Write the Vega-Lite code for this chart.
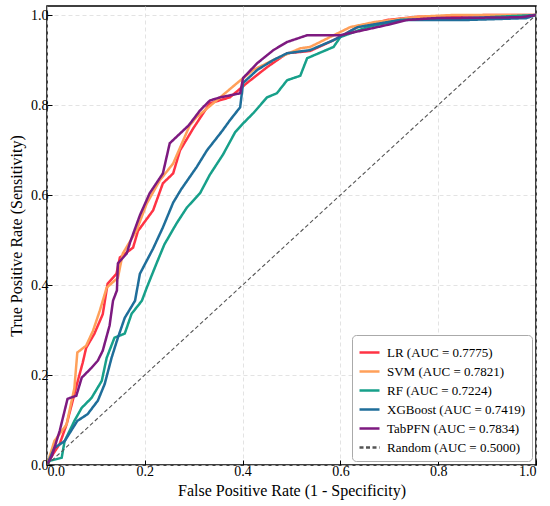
{
  "$schema": "https://vega.github.io/schema/vega-lite/v6.json",
  "width": 489,
  "height": 459,
  "autosize": "none",
  "padding": {"left": 47, "top": 6, "right": 14, "bottom": 41},
  "background": "white",
  "data": {
    "values": [
      {"model": "LR (AUC = 0.7775)", "fpr": 0, "tpr": 0},
      {"model": "LR (AUC = 0.7775)", "fpr": 0.01, "tpr": 0.02},
      {"model": "LR (AUC = 0.7775)", "fpr": 0.026, "tpr": 0.047},
      {"model": "LR (AUC = 0.7775)", "fpr": 0.04, "tpr": 0.09},
      {"model": "LR (AUC = 0.7775)", "fpr": 0.063, "tpr": 0.187},
      {"model": "LR (AUC = 0.7775)", "fpr": 0.073, "tpr": 0.227},
      {"model": "LR (AUC = 0.7775)", "fpr": 0.08, "tpr": 0.26},
      {"model": "LR (AUC = 0.7775)", "fpr": 0.097, "tpr": 0.292},
      {"model": "LR (AUC = 0.7775)", "fpr": 0.114, "tpr": 0.335},
      {"model": "LR (AUC = 0.7775)", "fpr": 0.124, "tpr": 0.403},
      {"model": "LR (AUC = 0.7775)", "fpr": 0.142, "tpr": 0.425},
      {"model": "LR (AUC = 0.7775)", "fpr": 0.149, "tpr": 0.461},
      {"model": "LR (AUC = 0.7775)", "fpr": 0.176, "tpr": 0.483},
      {"model": "LR (AUC = 0.7775)", "fpr": 0.186, "tpr": 0.52},
      {"model": "LR (AUC = 0.7775)", "fpr": 0.217, "tpr": 0.566},
      {"model": "LR (AUC = 0.7775)", "fpr": 0.237, "tpr": 0.626},
      {"model": "LR (AUC = 0.7775)", "fpr": 0.258, "tpr": 0.648},
      {"model": "LR (AUC = 0.7775)", "fpr": 0.272, "tpr": 0.699},
      {"model": "LR (AUC = 0.7775)", "fpr": 0.299, "tpr": 0.748},
      {"model": "LR (AUC = 0.7775)", "fpr": 0.333, "tpr": 0.804},
      {"model": "LR (AUC = 0.7775)", "fpr": 0.374, "tpr": 0.817},
      {"model": "LR (AUC = 0.7775)", "fpr": 0.409, "tpr": 0.849},
      {"model": "LR (AUC = 0.7775)", "fpr": 0.45, "tpr": 0.884},
      {"model": "LR (AUC = 0.7775)", "fpr": 0.491, "tpr": 0.915},
      {"model": "LR (AUC = 0.7775)", "fpr": 0.538, "tpr": 0.92},
      {"model": "LR (AUC = 0.7775)", "fpr": 0.586, "tpr": 0.944},
      {"model": "LR (AUC = 0.7775)", "fpr": 0.635, "tpr": 0.973},
      {"model": "LR (AUC = 0.7775)", "fpr": 0.696, "tpr": 0.989},
      {"model": "LR (AUC = 0.7775)", "fpr": 0.758, "tpr": 0.996},
      {"model": "LR (AUC = 0.7775)", "fpr": 0.9, "tpr": 1.0},
      {"model": "LR (AUC = 0.7775)", "fpr": 1, "tpr": 1},

      {"model": "SVM (AUC = 0.7821)", "fpr": 0, "tpr": 0},
      {"model": "SVM (AUC = 0.7821)", "fpr": 0.015, "tpr": 0.053},
      {"model": "SVM (AUC = 0.7821)", "fpr": 0.04, "tpr": 0.09},
      {"model": "SVM (AUC = 0.7821)", "fpr": 0.056, "tpr": 0.171},
      {"model": "SVM (AUC = 0.7821)", "fpr": 0.062, "tpr": 0.25},
      {"model": "SVM (AUC = 0.7821)", "fpr": 0.08, "tpr": 0.265},
      {"model": "SVM (AUC = 0.7821)", "fpr": 0.094, "tpr": 0.298},
      {"model": "SVM (AUC = 0.7821)", "fpr": 0.108, "tpr": 0.343},
      {"model": "SVM (AUC = 0.7821)", "fpr": 0.122, "tpr": 0.394},
      {"model": "SVM (AUC = 0.7821)", "fpr": 0.145, "tpr": 0.416},
      {"model": "SVM (AUC = 0.7821)", "fpr": 0.155, "tpr": 0.47},
      {"model": "SVM (AUC = 0.7821)", "fpr": 0.183, "tpr": 0.521},
      {"model": "SVM (AUC = 0.7821)", "fpr": 0.204, "tpr": 0.581},
      {"model": "SVM (AUC = 0.7821)", "fpr": 0.231, "tpr": 0.633},
      {"model": "SVM (AUC = 0.7821)", "fpr": 0.258, "tpr": 0.67},
      {"model": "SVM (AUC = 0.7821)", "fpr": 0.278, "tpr": 0.72},
      {"model": "SVM (AUC = 0.7821)", "fpr": 0.292, "tpr": 0.755},
      {"model": "SVM (AUC = 0.7821)", "fpr": 0.306, "tpr": 0.773},
      {"model": "SVM (AUC = 0.7821)", "fpr": 0.34, "tpr": 0.804},
      {"model": "SVM (AUC = 0.7821)", "fpr": 0.389, "tpr": 0.849},
      {"model": "SVM (AUC = 0.7821)", "fpr": 0.422, "tpr": 0.878},
      {"model": "SVM (AUC = 0.7821)", "fpr": 0.463, "tpr": 0.9},
      {"model": "SVM (AUC = 0.7821)", "fpr": 0.518, "tpr": 0.926},
      {"model": "SVM (AUC = 0.7821)", "fpr": 0.538, "tpr": 0.929},
      {"model": "SVM (AUC = 0.7821)", "fpr": 0.62, "tpr": 0.973},
      {"model": "SVM (AUC = 0.7821)", "fpr": 0.668, "tpr": 0.984},
      {"model": "SVM (AUC = 0.7821)", "fpr": 0.758, "tpr": 0.996},
      {"model": "SVM (AUC = 0.7821)", "fpr": 0.83, "tpr": 1.0},
      {"model": "SVM (AUC = 0.7821)", "fpr": 1, "tpr": 1},

      {"model": "RF (AUC = 0.7224)", "fpr": 0, "tpr": 0},
      {"model": "RF (AUC = 0.7224)", "fpr": 0.005, "tpr": 0.009},
      {"model": "RF (AUC = 0.7224)", "fpr": 0.03, "tpr": 0.016},
      {"model": "RF (AUC = 0.7224)", "fpr": 0.036, "tpr": 0.053},
      {"model": "RF (AUC = 0.7224)", "fpr": 0.056, "tpr": 0.098},
      {"model": "RF (AUC = 0.7224)", "fpr": 0.071, "tpr": 0.127},
      {"model": "RF (AUC = 0.7224)", "fpr": 0.091, "tpr": 0.149},
      {"model": "RF (AUC = 0.7224)", "fpr": 0.112, "tpr": 0.187},
      {"model": "RF (AUC = 0.7224)", "fpr": 0.122, "tpr": 0.238},
      {"model": "RF (AUC = 0.7224)", "fpr": 0.138, "tpr": 0.283},
      {"model": "RF (AUC = 0.7224)", "fpr": 0.159, "tpr": 0.292},
      {"model": "RF (AUC = 0.7224)", "fpr": 0.173, "tpr": 0.336},
      {"model": "RF (AUC = 0.7224)", "fpr": 0.194, "tpr": 0.365},
      {"model": "RF (AUC = 0.7224)", "fpr": 0.204, "tpr": 0.394},
      {"model": "RF (AUC = 0.7224)", "fpr": 0.224, "tpr": 0.448},
      {"model": "RF (AUC = 0.7224)", "fpr": 0.24, "tpr": 0.49},
      {"model": "RF (AUC = 0.7224)", "fpr": 0.265, "tpr": 0.537},
      {"model": "RF (AUC = 0.7224)", "fpr": 0.286, "tpr": 0.572},
      {"model": "RF (AUC = 0.7224)", "fpr": 0.313, "tpr": 0.604},
      {"model": "RF (AUC = 0.7224)", "fpr": 0.333, "tpr": 0.645},
      {"model": "RF (AUC = 0.7224)", "fpr": 0.36, "tpr": 0.69},
      {"model": "RF (AUC = 0.7224)", "fpr": 0.385, "tpr": 0.74},
      {"model": "RF (AUC = 0.7224)", "fpr": 0.401, "tpr": 0.759},
      {"model": "RF (AUC = 0.7224)", "fpr": 0.422, "tpr": 0.782},
      {"model": "RF (AUC = 0.7224)", "fpr": 0.45, "tpr": 0.817},
      {"model": "RF (AUC = 0.7224)", "fpr": 0.47, "tpr": 0.826},
      {"model": "RF (AUC = 0.7224)", "fpr": 0.491, "tpr": 0.855},
      {"model": "RF (AUC = 0.7224)", "fpr": 0.518, "tpr": 0.865},
      {"model": "RF (AUC = 0.7224)", "fpr": 0.532, "tpr": 0.904},
      {"model": "RF (AUC = 0.7224)", "fpr": 0.586, "tpr": 0.929},
      {"model": "RF (AUC = 0.7224)", "fpr": 0.6, "tpr": 0.951},
      {"model": "RF (AUC = 0.7224)", "fpr": 0.655, "tpr": 0.973},
      {"model": "RF (AUC = 0.7224)", "fpr": 0.723, "tpr": 0.989},
      {"model": "RF (AUC = 0.7224)", "fpr": 0.86, "tpr": 0.993},
      {"model": "RF (AUC = 0.7224)", "fpr": 1, "tpr": 1},

      {"model": "XGBoost (AUC = 0.7419)", "fpr": 0, "tpr": 0},
      {"model": "XGBoost (AUC = 0.7419)", "fpr": 0.015, "tpr": 0.038},
      {"model": "XGBoost (AUC = 0.7419)", "fpr": 0.036, "tpr": 0.053},
      {"model": "XGBoost (AUC = 0.7419)", "fpr": 0.062, "tpr": 0.098},
      {"model": "XGBoost (AUC = 0.7419)", "fpr": 0.083, "tpr": 0.113},
      {"model": "XGBoost (AUC = 0.7419)", "fpr": 0.104, "tpr": 0.143},
      {"model": "XGBoost (AUC = 0.7419)", "fpr": 0.118, "tpr": 0.18},
      {"model": "XGBoost (AUC = 0.7419)", "fpr": 0.132, "tpr": 0.238},
      {"model": "XGBoost (AUC = 0.7419)", "fpr": 0.145, "tpr": 0.283},
      {"model": "XGBoost (AUC = 0.7419)", "fpr": 0.159, "tpr": 0.327},
      {"model": "XGBoost (AUC = 0.7419)", "fpr": 0.18, "tpr": 0.365},
      {"model": "XGBoost (AUC = 0.7419)", "fpr": 0.19, "tpr": 0.425},
      {"model": "XGBoost (AUC = 0.7419)", "fpr": 0.217, "tpr": 0.481},
      {"model": "XGBoost (AUC = 0.7419)", "fpr": 0.237, "tpr": 0.528},
      {"model": "XGBoost (AUC = 0.7419)", "fpr": 0.258, "tpr": 0.583},
      {"model": "XGBoost (AUC = 0.7419)", "fpr": 0.274, "tpr": 0.612},
      {"model": "XGBoost (AUC = 0.7419)", "fpr": 0.306, "tpr": 0.662},
      {"model": "XGBoost (AUC = 0.7419)", "fpr": 0.327, "tpr": 0.699},
      {"model": "XGBoost (AUC = 0.7419)", "fpr": 0.358, "tpr": 0.742},
      {"model": "XGBoost (AUC = 0.7419)", "fpr": 0.374, "tpr": 0.766},
      {"model": "XGBoost (AUC = 0.7419)", "fpr": 0.395, "tpr": 0.795},
      {"model": "XGBoost (AUC = 0.7419)", "fpr": 0.401, "tpr": 0.849},
      {"model": "XGBoost (AUC = 0.7419)", "fpr": 0.43, "tpr": 0.878},
      {"model": "XGBoost (AUC = 0.7419)", "fpr": 0.463, "tpr": 0.9},
      {"model": "XGBoost (AUC = 0.7419)", "fpr": 0.491, "tpr": 0.915},
      {"model": "XGBoost (AUC = 0.7419)", "fpr": 0.538, "tpr": 0.922},
      {"model": "XGBoost (AUC = 0.7419)", "fpr": 0.586, "tpr": 0.944},
      {"model": "XGBoost (AUC = 0.7419)", "fpr": 0.635, "tpr": 0.973},
      {"model": "XGBoost (AUC = 0.7419)", "fpr": 0.723, "tpr": 0.989},
      {"model": "XGBoost (AUC = 0.7419)", "fpr": 0.86, "tpr": 0.989},
      {"model": "XGBoost (AUC = 0.7419)", "fpr": 0.98, "tpr": 0.993},
      {"model": "XGBoost (AUC = 0.7419)", "fpr": 1, "tpr": 1},

      {"model": "TabPFN (AUC = 0.7834)", "fpr": 0, "tpr": 0},
      {"model": "TabPFN (AUC = 0.7834)", "fpr": 0.01, "tpr": 0.02},
      {"model": "TabPFN (AUC = 0.7834)", "fpr": 0.026, "tpr": 0.076},
      {"model": "TabPFN (AUC = 0.7834)", "fpr": 0.042, "tpr": 0.147},
      {"model": "TabPFN (AUC = 0.7834)", "fpr": 0.06, "tpr": 0.154},
      {"model": "TabPFN (AUC = 0.7834)", "fpr": 0.071, "tpr": 0.194},
      {"model": "TabPFN (AUC = 0.7834)", "fpr": 0.091, "tpr": 0.216},
      {"model": "TabPFN (AUC = 0.7834)", "fpr": 0.104, "tpr": 0.232},
      {"model": "TabPFN (AUC = 0.7834)", "fpr": 0.114, "tpr": 0.254},
      {"model": "TabPFN (AUC = 0.7834)", "fpr": 0.128, "tpr": 0.31},
      {"model": "TabPFN (AUC = 0.7834)", "fpr": 0.135, "tpr": 0.365},
      {"model": "TabPFN (AUC = 0.7834)", "fpr": 0.143, "tpr": 0.388},
      {"model": "TabPFN (AUC = 0.7834)", "fpr": 0.145, "tpr": 0.448},
      {"model": "TabPFN (AUC = 0.7834)", "fpr": 0.163, "tpr": 0.47},
      {"model": "TabPFN (AUC = 0.7834)", "fpr": 0.17, "tpr": 0.495},
      {"model": "TabPFN (AUC = 0.7834)", "fpr": 0.19, "tpr": 0.555},
      {"model": "TabPFN (AUC = 0.7834)", "fpr": 0.21, "tpr": 0.604},
      {"model": "TabPFN (AUC = 0.7834)", "fpr": 0.237, "tpr": 0.648},
      {"model": "TabPFN (AUC = 0.7834)", "fpr": 0.251, "tpr": 0.715},
      {"model": "TabPFN (AUC = 0.7834)", "fpr": 0.29, "tpr": 0.755},
      {"model": "TabPFN (AUC = 0.7834)", "fpr": 0.313, "tpr": 0.788},
      {"model": "TabPFN (AUC = 0.7834)", "fpr": 0.333, "tpr": 0.81},
      {"model": "TabPFN (AUC = 0.7834)", "fpr": 0.354, "tpr": 0.817},
      {"model": "TabPFN (AUC = 0.7834)", "fpr": 0.395, "tpr": 0.826},
      {"model": "TabPFN (AUC = 0.7834)", "fpr": 0.401, "tpr": 0.86},
      {"model": "TabPFN (AUC = 0.7834)", "fpr": 0.43, "tpr": 0.893},
      {"model": "TabPFN (AUC = 0.7834)", "fpr": 0.463, "tpr": 0.922},
      {"model": "TabPFN (AUC = 0.7834)", "fpr": 0.491, "tpr": 0.94},
      {"model": "TabPFN (AUC = 0.7834)", "fpr": 0.532, "tpr": 0.955},
      {"model": "TabPFN (AUC = 0.7834)", "fpr": 0.6, "tpr": 0.955},
      {"model": "TabPFN (AUC = 0.7834)", "fpr": 0.696, "tpr": 0.978},
      {"model": "TabPFN (AUC = 0.7834)", "fpr": 0.737, "tpr": 0.989},
      {"model": "TabPFN (AUC = 0.7834)", "fpr": 0.791, "tpr": 0.993},
      {"model": "TabPFN (AUC = 0.7834)", "fpr": 0.97, "tpr": 0.995},
      {"model": "TabPFN (AUC = 0.7834)", "fpr": 1, "tpr": 1},

      {"model": "Random (AUC = 0.5000)", "fpr": 0, "tpr": 0},
      {"model": "Random (AUC = 0.5000)", "fpr": 1, "tpr": 1}
    ]
  },
  "encoding": {
    "x": {
      "field": "fpr",
      "type": "quantitative",
      "title": "False Positive Rate (1 - Specificity)",
      "scale": {"domain": [0, 1], "nice": false},
      "axis": {"values": [0, 0.2, 0.4, 0.6, 0.8, 1], "format": ".1f", "titlePadding": 4}
    },
    "y": {
      "field": "tpr",
      "type": "quantitative",
      "title": "True Positive Rate (Sensitivity)",
      "scale": {"domain": [0, 1.02], "nice": false},
      "axis": {"values": [0, 0.2, 0.4, 0.6, 0.8, 1], "format": ".1f", "titlePadding": 6}
    },
    "color": {
      "field": "model",
      "type": "nominal",
      "title": null,
      "scale": {
        "domain": ["LR (AUC = 0.7775)", "SVM (AUC = 0.7821)", "RF (AUC = 0.7224)", "XGBoost (AUC = 0.7419)", "TabPFN (AUC = 0.7834)", "Random (AUC = 0.5000)"],
        "range": ["#FF3344", "#FFA05A", "#17A08A", "#1F6E9A", "#7D1A80", "#555555"]
      },
      "legend": {
        "orient": "bottom-right",
        "offset": 4,
        "symbolType": "stroke",
        "symbolSize": 400,
        "symbolStrokeWidth": 2.5,
        "labelFontSize": 13,
        "labelOffset": 6,
        "rowPadding": 0,
        "padding": 6,
        "fillColor": "white",
        "strokeColor": "#aaaaaa",
        "cornerRadius": 4
      }
    },
    "strokeDash": {
      "field": "model",
      "type": "nominal",
      "title": null,
      "scale": {
        "domain": ["LR (AUC = 0.7775)", "SVM (AUC = 0.7821)", "RF (AUC = 0.7224)", "XGBoost (AUC = 0.7419)", "TabPFN (AUC = 0.7834)", "Random (AUC = 0.5000)"],
        "range": [[1, 0], [1, 0], [1, 0], [1, 0], [1, 0], [4, 2.5]]
      }
    }
  },
  "layer": [
    {
      "transform": [{"filter": "datum.model != 'Random (AUC = 0.5000)'"}],
      "mark": {"type": "line", "clip": true, "strokeWidth": 2.5}
    },
    {
      "transform": [{"filter": "datum.model == 'Random (AUC = 0.5000)'"}],
      "mark": {"type": "line", "clip": true, "strokeWidth": 1.1}
    }
  ],
  "config": {
    "font": "Liberation Serif",
    "view": {"stroke": "black", "strokeWidth": 1.5},
    "axis": {
      "domain": false,
      "grid": true,
      "gridColor": "#dcdcdc",
      "gridDash": [4, 3],
      "gridWidth": 0.8,
      "ticks": true,
      "tickSize": -5,
      "tickColor": "black",
      "labelFont": "Liberation Serif",
      "titleFont": "Liberation Serif",
      "labelFontSize": 14,
      "titleFontSize": 16,
      "titleFontWeight": "normal",
      "labelColor": "black",
      "titleColor": "black",
      "labelPadding": 4
    },
    "legend": {
      "labelFont": "Liberation Serif",
      "labelColor": "black"
    }
  }
}
